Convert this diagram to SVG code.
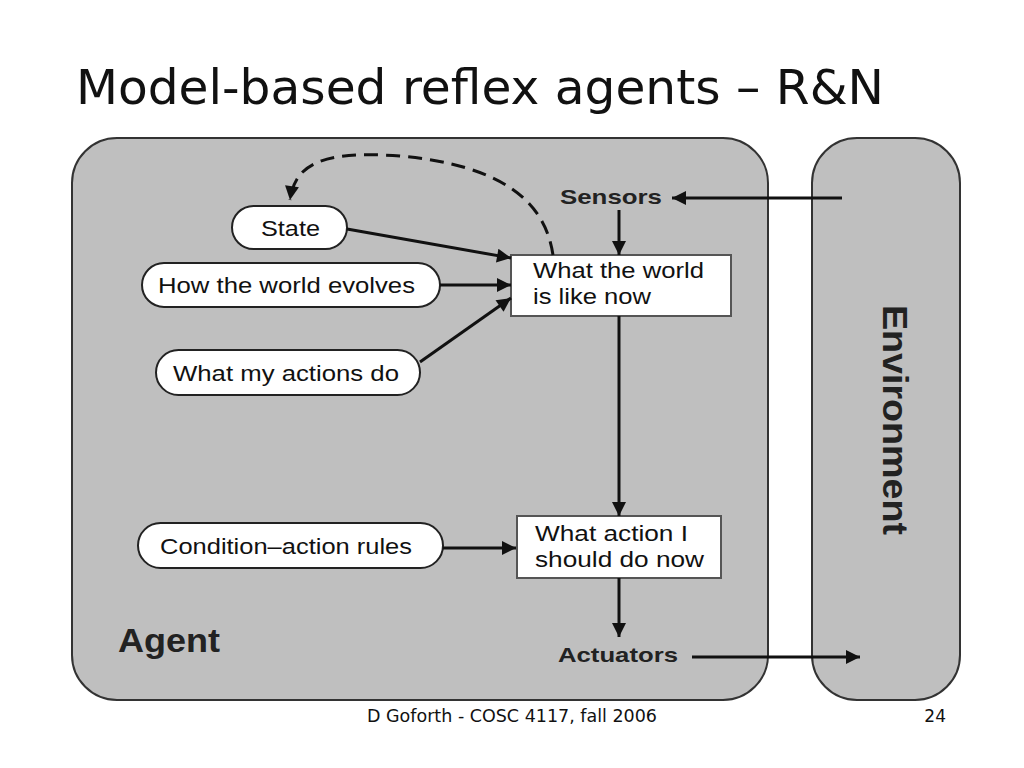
<svg xmlns="http://www.w3.org/2000/svg" width="1024" height="768" viewBox="0 0 1024 768">
<defs>
<marker id="ahb" viewBox="0 0 10 10" refX="10" refY="5" markerWidth="22" markerHeight="14" markerUnits="userSpaceOnUse" orient="auto">
<path d="M0,0 L10,5 L0,10 z" fill="#111"/>
</marker>
</defs>
<style>
.panel{fill:#bfbfbf;stroke:#333;stroke-width:2}
.pill{fill:#fff;stroke:#222;stroke-width:2}
.box{fill:#fff;stroke:#555;stroke-width:2}
.lbl{font-family:"Liberation Sans",Arial,sans-serif;font-size:22px;fill:#111}
.bold{font-family:"Liberation Sans",Arial,sans-serif;font-weight:bold;fill:#222}
.edge{stroke:#111;stroke-width:3;fill:none;marker-end:url(#ahb)}
</style>
<rect width="1024" height="768" fill="#fff"/>
<text x="76" y="104" font-family="DejaVu Sans, sans-serif" font-size="48" fill="#111" textLength="808" lengthAdjust="spacingAndGlyphs">Model-based reflex agents – R&amp;N</text>

<g id="agent">
<rect class="panel" x="72" y="138" width="696" height="562" rx="45" ry="45"/>
<text class="bold" x="118" y="652" font-size="33" textLength="102" lengthAdjust="spacingAndGlyphs">Agent</text>
</g>
<g id="environment">
<rect class="panel" x="812" y="138" width="148" height="562" rx="45" ry="45"/>
<text class="bold" font-size="35" transform="translate(883,420) rotate(90)" text-anchor="middle" textLength="230" lengthAdjust="spacingAndGlyphs">Environment</text>
</g>
<g id="sensors"><text class="bold" x="560" y="204" font-size="21" textLength="102" lengthAdjust="spacingAndGlyphs">Sensors</text></g>
<g id="actuators"><text class="bold" x="558" y="662" font-size="21" textLength="120" lengthAdjust="spacingAndGlyphs">Actuators</text></g>

<g id="state">
<rect class="pill" x="232" y="206" width="115" height="43" rx="21.5"/>
<text class="lbl" x="261" y="236" textLength="59" lengthAdjust="spacingAndGlyphs">State</text>
</g>
<g id="how-world-evolves">
<rect class="pill" x="142" y="263" width="298" height="44" rx="22"/>
<text class="lbl" x="158" y="293" textLength="257" lengthAdjust="spacingAndGlyphs">How the world evolves</text>
</g>
<g id="what-my-actions-do">
<rect class="pill" x="156" y="350" width="264" height="45" rx="22.5"/>
<text class="lbl" x="173" y="381" textLength="226" lengthAdjust="spacingAndGlyphs">What my actions do</text>
</g>
<g id="condition-action-rules">
<rect class="pill" x="138" y="523" width="305" height="45" rx="22.5"/>
<text class="lbl" x="160" y="554" textLength="252" lengthAdjust="spacingAndGlyphs">Condition–action rules</text>
</g>
<g id="world-now">
<rect class="box" x="511" y="255" width="220" height="61"/>
<text class="lbl" x="533" y="278" textLength="171" lengthAdjust="spacingAndGlyphs">What the world</text>
<text class="lbl" x="533" y="304" textLength="118" lengthAdjust="spacingAndGlyphs">is like now</text>
</g>
<g id="action-now">
<rect class="box" x="517" y="516" width="204" height="62"/>
<text class="lbl" x="535" y="541" textLength="153" lengthAdjust="spacingAndGlyphs">What action I</text>
<text class="lbl" x="535" y="567" textLength="169" lengthAdjust="spacingAndGlyphs">should do now</text>
</g>

<g id="connectors">
<path class="edge" d="M842,198 L672,198"/>
<path class="edge" d="M619,210 L619,255"/>
<path class="edge" d="M347,229 L511,258"/>
<path class="edge" d="M440,285 L511,285"/>
<path class="edge" d="M420,362 L511,298"/>
<path class="edge" d="M619,316 L619,516"/>
<path class="edge" d="M443,548 L516,548"/>
<path class="edge" d="M619,578 L619,637"/>
<path class="edge" d="M692,657 L860,657"/>
<path d="M553,255 C545,200 500,165 400,156 C320,150 295,165 290,200" fill="none" stroke="#111" stroke-width="3" stroke-dasharray="14,8" marker-end="url(#ahb)"/>
</g>

<text x="367" y="722" font-family="DejaVu Sans, sans-serif" font-size="17" fill="#111" textLength="290" lengthAdjust="spacingAndGlyphs">D Goforth - COSC 4117, fall 2006</text>
<text x="946" y="722" font-family="DejaVu Sans, sans-serif" font-size="17" fill="#111" text-anchor="end">24</text>
</svg>
